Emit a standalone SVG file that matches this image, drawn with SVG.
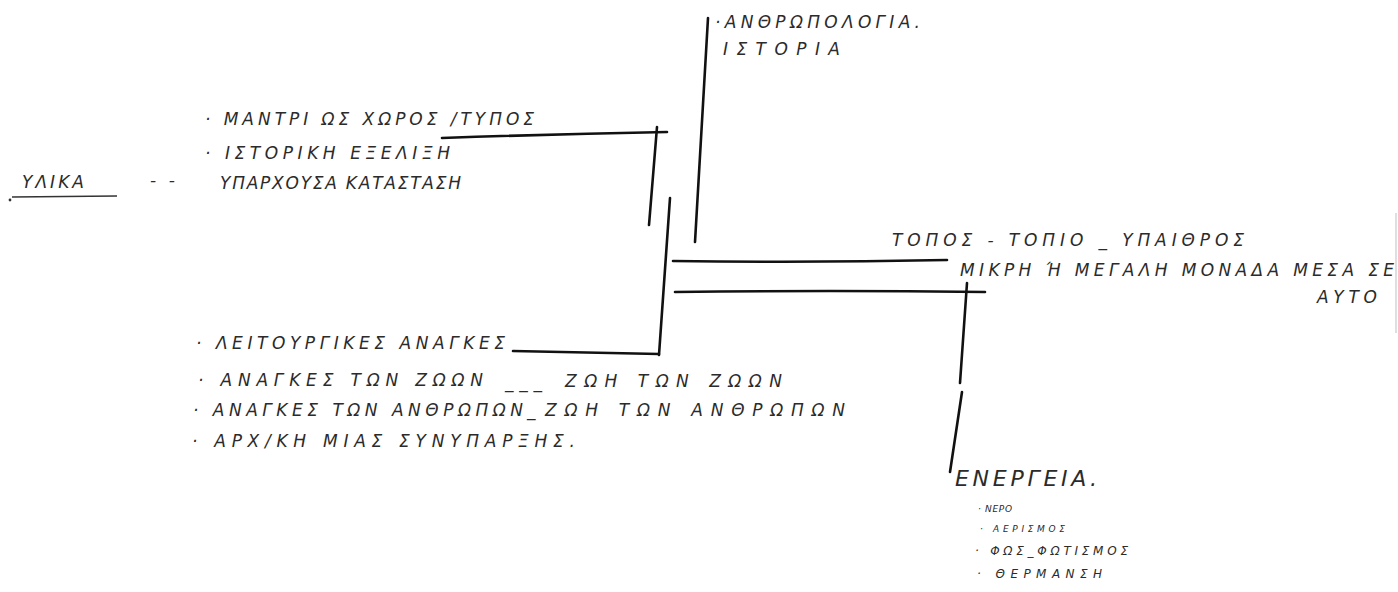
<svg xmlns="http://www.w3.org/2000/svg" width="1398" height="592" viewBox="0 0 1398 592">
<style>
.t{font-family:"DejaVu Sans","Noto Sans",sans-serif;font-style:italic;font-size:17px;fill:#2b2b2b}
.big{font-size:22px}
.sm{font-size:9px}
.md{font-size:12px}
.ln{fill:none;stroke:#111;stroke-width:2.6;stroke-linecap:round}
.thin{fill:none;stroke:#333;stroke-width:1.4}
</style>
<rect width="1398" height="592" fill="#fff"/>
<g id="connectors">
<path class="ln" d="M442,138 Q555,134 667,132"/>
<path class="ln" d="M657,127 L649,225"/>
<path class="ln" d="M670,198 L659,355"/>
<path class="ln" d="M513,351 L659,354"/>
<path class="ln" d="M708,18 L695,242"/>
<path class="ln" d="M673,261 Q810,263 947,260"/>
<path class="ln" d="M675,292 Q830,290 985,292"/>
<path class="ln" d="M967,283 L960,383"/>
<path class="ln" d="M962,392 L950,472"/>
<path d="M1396,213 L1396,333" stroke="#d4d4d4" stroke-width="1.5"/>
</g>
<g id="node-anthropologia">
<text class="t" x="715" y="28" textLength="205" lengthAdjust="spacing">·ΑΝΘΡΩΠΟΛΟΓΙΑ.</text>
<text class="t" x="723" y="55" textLength="117" lengthAdjust="spacing">ΙΣΤΟΡΙΑ</text>
</g>
<g id="node-ylika">
<circle cx="10" cy="200" r="1.4" fill="#333"/>
<text class="t" x="22" y="188" textLength="62" lengthAdjust="spacing">ΥΛΙΚΑ</text>
<path class="thin" d="M12,197 L117,196"/>
<text class="t" x="150" y="186" textLength="25" lengthAdjust="spacing">- -</text>
</g>
<g id="node-mantri">
<text class="t" x="205" y="125" textLength="329" lengthAdjust="spacing">· ΜΑΝΤΡΙ ΩΣ ΧΩΡΟΣ /ΤΥΠΟΣ</text>
<text class="t" x="205" y="159" textLength="245" lengthAdjust="spacing">· ΙΣΤΟΡΙΚΗ ΕΞΕΛΙΞΗ</text>
<text class="t" x="220" y="189" textLength="241" lengthAdjust="spacing">ΥΠΑΡΧΟΥΣΑ ΚΑΤΑΣΤΑΣΗ</text>
</g>
<g id="node-topos">
<text class="t" x="892" y="246" textLength="352" lengthAdjust="spacing">ΤΟΠΟΣ - ΤΟΠΙΟ _ ΥΠΑΙΘΡΟΣ</text>
<text class="t" x="960" y="276" textLength="434" lengthAdjust="spacing">ΜΙΚΡΗ Ή ΜΕΓΑΛΗ ΜΟΝΑΔΑ ΜΕΣΑ ΣΕ</text>
<text class="t" x="1317" y="303" textLength="60" lengthAdjust="spacing">ΑΥΤΟ</text>
</g>
<g id="node-leitourgikes">
<text class="t" x="196" y="349" textLength="309" lengthAdjust="spacing">· ΛΕΙΤΟΥΡΓΙΚΕΣ ΑΝΑΓΚΕΣ</text>
<text class="t" x="198" y="386" textLength="285" lengthAdjust="spacing">· ΑΝΑΓΚΕΣ ΤΩΝ ΖΩΩΝ</text>
<text class="t" x="505" y="388" textLength="37" lengthAdjust="spacing">___</text>
<text class="t" x="565" y="387" textLength="217" lengthAdjust="spacing">ΖΩΗ ΤΩΝ ΖΩΩΝ</text>
<text class="t" x="193" y="416" textLength="330" lengthAdjust="spacing">· ΑΝΑΓΚΕΣ ΤΩΝ ΑΝΘΡΩΠΩΝ</text>
<text class="t" x="527" y="416" textLength="12" lengthAdjust="spacing">_</text>
<text class="t" x="545" y="416" textLength="300" lengthAdjust="spacing">ΖΩΗ ΤΩΝ ΑΝΘΡΩΠΩΝ</text>
<text class="t" x="192" y="447" textLength="383" lengthAdjust="spacing">· ΑΡΧ/ΚΗ ΜΙΑΣ ΣΥΝΥΠΑΡΞΗΣ.</text>
</g>
<g id="node-energeia">
<text class="t big" x="955" y="486" textLength="142" lengthAdjust="spacing">ΕΝΕΡΓΕΙΑ.</text>
<text class="t sm" x="978" y="512" textLength="34" lengthAdjust="spacing">· ΝΕΡΟ</text>
<text class="t sm" x="980" y="532" textLength="85" lengthAdjust="spacing">· ΑΕΡΙΣΜΟΣ</text>
<text class="t md" x="975" y="555" textLength="153" lengthAdjust="spacing">· ΦΩΣ_ΦΩΤΙΣΜΟΣ</text>
<text class="t md" x="977" y="578" textLength="125" lengthAdjust="spacing">· ΘΕΡΜΑΝΣΗ</text>
</g>
</svg>
